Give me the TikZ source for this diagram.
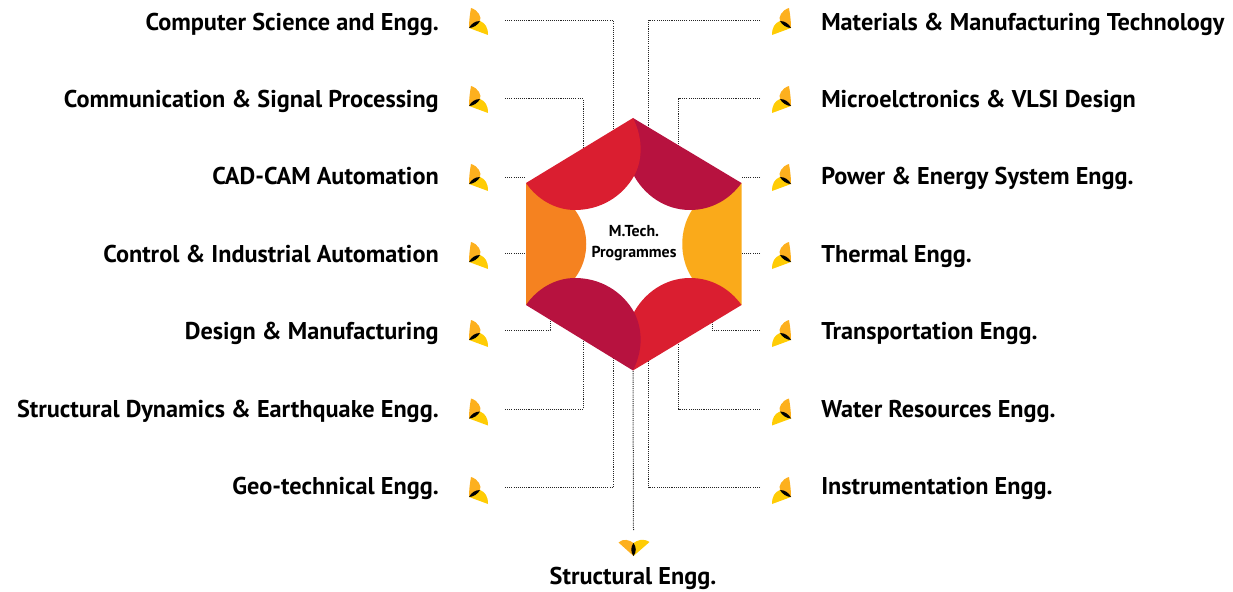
\documentclass[tikz,border=0pt]{standalone}
\usepackage{fontspec}
\setmainfont{PT Sans}
\usetikzlibrary{positioning}
\definecolor{petalred}{RGB}{218,30,48}
\definecolor{petalcrimson}{RGB}{183,18,63}
\definecolor{petalorange}{RGB}{245,130,32}
\definecolor{petalamber}{RGB}{250,170,26}
\definecolor{wingamber}{RGB}{253,176,30}
\definecolor{wingyellow}{RGB}{255,204,5}
\newcommand{\itemfont}{\fontsize{18.2}{20}\selectfont\bfseries}
\tikzset{
  every pic/.style={yscale=-1},
  dotline/.style={black!85,line width=0.75pt,dash pattern=on 0.8pt off 0.8pt},
  itemleft/.style={anchor=base east,inner sep=0pt,font=\itemfont},
  itemright/.style={anchor=base west,inner sep=0pt,font=\itemfont},
  wing/.pic={
    \fill[wingamber] (2,-20) .. controls (9,-18) and (13,-11) .. (11,-7) -- (0,0) .. controls (0,-8) and (1,-14) .. (2,-20) -- cycle;
    \fill[wingyellow] (0,0) -- (11,-7) .. controls (16,-5) and (19,-1) .. (19,7) -- cycle;
    \fill[black] (0,0) .. controls (2,-4) and (6,-7) .. (11,-7) .. controls (9,-3) and (4,0) .. (0,0) -- cycle;
  },
  wingdown/.pic={
    \fill[wingamber] (0,-13) .. controls (-4,-16) and (-10,-18) .. (-15,-13.5) -- (0,0) -- cycle;
    \fill[wingyellow] (0,-13) .. controls (4,-16) and (10,-18) .. (16,-14) -- (0,0) -- cycle;
    \fill[black] (0,0) .. controls (-3,-4) and (-3,-9) .. (0,-13) .. controls (3,-9) and (3,-4) .. (0,0) -- cycle;
  }
}
\begin{document}
\begin{tikzpicture}[x=0.75pt,y=0.75pt,yscale=-1,xscale=1]
\useasboundingbox (0,0) rectangle (1233,592);

%Hexagon corners
\coordinate (hextop) at (633,118);
\coordinate (hexrt) at (741.5,183);
\coordinate (hexrb) at (741.5,305);
\coordinate (hexbot) at (633,370.5);
\coordinate (hexlb) at (526,305);
\coordinate (hexlt) at (526,183);

%Straight Lines left
\draw[dotline] (505,20.5) coordinate (csestart) -| (613,135) coordinate (cseend);
\draw[dotline] (505,99) coordinate (commstart) -| (583,150) coordinate (commend);
\draw[dotline] (505,177.5) coordinate (cadstart) -- (526,177.5) coordinate (cadend);
\draw[dotline] (505,253) coordinate (ctrlstart) -- (526,253) coordinate (ctrlend);
\draw[dotline] (505,330) coordinate (desstart) -| (550,318) coordinate (desend);
\draw[dotline] (505,409) coordinate (sdestart) -| (583,340) coordinate (sdeend);
\draw[dotline] (505,487.5) coordinate (geostart) -| (613,355) coordinate (geoend);
%Straight Lines right
\draw[dotline] (760,20.5) coordinate (matstart) -| (648.5,130) coordinate (matend);
\draw[dotline] (760,99) coordinate (vlsistart) -| (678.5,150) coordinate (vlsiend);
\draw[dotline] (760,177.5) coordinate (powstart) -- (741.5,177.5) coordinate (powend);
\draw[dotline] (760,253) coordinate (thrstart) -- (741.5,253) coordinate (thrend);
\draw[dotline] (760,330) coordinate (trastart) -| (712,320) coordinate (traend);
\draw[dotline] (760,409) coordinate (watstart) -| (678.5,340) coordinate (watend);
\draw[dotline] (760,487.5) coordinate (insstart) -| (648.5,355) coordinate (insend);
%Straight Lines bottom
\coordinate (strstart) at (633.5,530);
\draw[dotline] (strstart) -- (hexbot);

%Shape: side panels
\fill[petalorange] (hexlt) -- (hexlb) -- (575,278) .. controls (590,258) and (590,230) .. (575,210) -- cycle;
\fill[petalamber] (hexrt) -- (hexrb) -- (692,278) .. controls (679,258) and (679,230) .. (692,210) -- cycle;
%Shape: top petals
\fill[petalcrimson] (hextop) -- (hexrt) .. controls (730,199) and (712,210) .. (690,210) .. controls (665,210) and (644,195) .. (633,174) -- cycle;
\fill[petalred] (hexlt) -- (hextop) .. controls (644,140) and (642,162) .. (634,176) .. controls (622,197) and (600,210) .. (575,210) .. controls (555,210) and (537,199) .. (hexlt) -- cycle;
%Shape: bottom petals
\fill[petalred] (hexbot) -- (hexrb) .. controls (730,289) and (712,278) .. (690,278) .. controls (665,278) and (644,293) .. (633,314) -- cycle;
\fill[petalcrimson] (hexlb) -- (hexbot) .. controls (644,348) and (642,328) .. (634,312) .. controls (622,291) and (600,278) .. (575,278) .. controls (555,278) and (537,289) .. (hexlb) -- cycle;

%Centre text
\node[font=\fontsize{11.9}{15.4}\selectfont\bfseries,align=center,inner sep=0pt] (mtech) at (634,243) {M.Tech.\\Programmes};

%Left items
\node[itemleft] (cse) at (439,30.5) {Computer Science and Engg.};
\node[itemleft] (comm) at (439,107.5) {Communication \& Signal Processing};
\node[itemleft] (cad) at (439,185) {CAD-CAM Automation};
\node[itemleft] (ctrl) at (439,262) {Control \& Industrial Automation};
\node[itemleft] (des) at (439,339.5) {Design \& Manufacturing};
\node[itemleft] (sde) at (439,417) {Structural Dynamics \& Earthquake Engg.};
\node[itemleft] (geo) at (439,494) {Geo-technical Engg.};
%Right items
\node[itemright] (mat) at (821,30.5) {Materials \& Manufacturing Technology};
\node[itemright] (vlsi) at (821,107.5) {Microelctronics \& VLSI Design};
\node[itemright] (pow) at (821,185) {Power \& Energy System Engg.};
\node[itemright] (thr) at (821,262) {Thermal Engg.};
\node[itemright] (tra) at (821,339.5) {Transportation Engg.};
\node[itemright] (wat) at (821,417) {Water Resources Engg.};
\node[itemright] (ins) at (821,494) {Instrumentation Engg.};
%Bottom item
\node[inner sep=0pt,anchor=base,font=\itemfont] (str) at (633,584) {Structural Engg.};

%Wings left
\pic at (469,28) {wing};
\pic at (469,106) {wing};
\pic at (469,184) {wing};
\pic at (469,262) {wing};
\pic at (469,340) {wing};
\pic at (469,418.5) {wing};
\pic at (469,497) {wing};
%Wings right
\pic[xscale=-1] at (791,28) {wing};
\pic[xscale=-1] at (791,106) {wing};
\pic[xscale=-1] at (791,184) {wing};
\pic[xscale=-1] at (791,262) {wing};
\pic[xscale=-1] at (791,340) {wing};
\pic[xscale=-1] at (791,418.5) {wing};
\pic[xscale=-1] at (791,497) {wing};
%Wings bottom
\pic at (633.5,556) {wingdown};
\end{tikzpicture}
\end{document}
